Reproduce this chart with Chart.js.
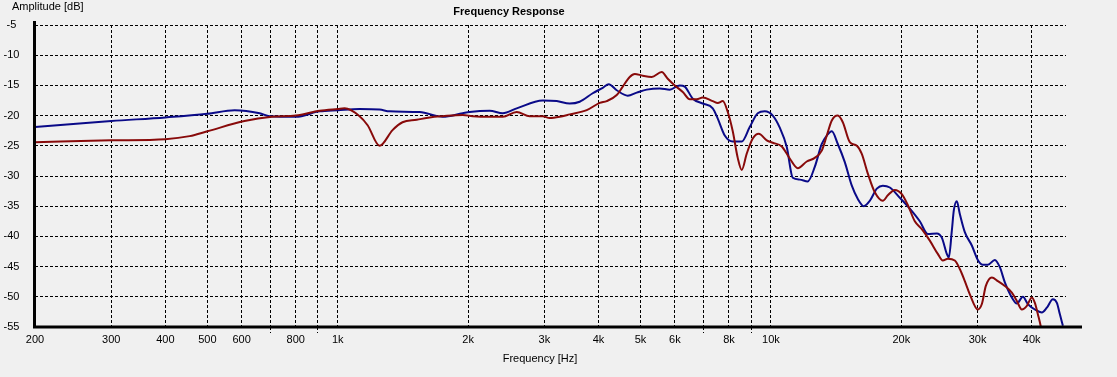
<!DOCTYPE html>
<html>
<head>
<meta charset="utf-8">
<script src="https://cdn.jsdelivr.net/npm/chart.js@4"></script>
<style>
  html, body { margin: 0; padding: 0; background: #f0f0f0; }
  canvas { display: block; }
</style>
</head>
<body>
<canvas id="fr" width="1117" height="377"></canvas>
<script>
// measured curves, frequency in Hz / amplitude in dB
const freqBlue = [200, 300, 400, 500, 578, 660, 696, 800, 908, 1000, 1123, 1249, 1318, 1546, 1747, 1943, 2016, 2242, 2403, 2589,
  2972, 3202, 3431, 3619, 3878, 4090, 4223, 4406, 4671, 4900, 5167, 5538, 5840, 6160, 6326, 6601, 6960, 7340, 7538, 7824,
  8164, 8563, 8935, 9325, 9678, 10099, 10482, 10879, 11231, 11657, 12164, 12625, 13104, 13459, 13822, 14270, 14811, 15373, 15872, 16387,
  16919, 17560, 18130, 18817, 19843, 20925, 22067, 23026, 24155, 24805, 25472, 25745, 26159, 26439, 26864, 27297, 28031, 29095, 30040, 30850,
  31681, 32883, 33768, 34678, 35994, 36966, 38165, 39192, 40679, 42221, 43360, 44766, 45729, 46465, 47212];
const dbBlue = [-21.9, -20.9, -20.3, -19.7, -19.1, -19.6, -20.1, -20.2, -19.3, -19.1, -18.9, -19.0, -19.3, -19.4, -20.2, -19.6, -19.4, -19.2, -19.6, -18.8,
  -17.5, -17.6, -18.0, -17.7, -16.3, -15.4, -14.8, -15.8, -16.7, -16.2, -15.7, -15.5, -15.7, -15.0, -15.2, -17.2, -18.0, -18.8, -20.5, -23.3,
  -24.3, -24.3, -21.9, -19.6, -19.3, -20.0, -22.0, -25.2, -30.3, -30.6, -30.9, -28.5, -24.7, -23.3, -22.6, -24.7, -27.7, -31.6, -33.8, -35.0,
  -34.1, -32.1, -31.6, -31.9, -33.6, -35.4, -37.5, -39.6, -39.5, -40.2, -42.9, -43.5, -39.1, -35.7, -34.2, -36.3, -39.3, -41.5, -43.9, -44.7,
  -44.7, -43.9, -45.1, -47.6, -50.1, -51.1, -50.0, -51.2, -52.1, -52.6, -51.8, -50.4, -51.0, -52.9, -54.8];

const freqRed = [200, 300, 400, 455, 500, 609, 704, 800, 908, 1000, 1037, 1123, 1172, 1249, 1338, 1411, 1521, 1630, 1747, 1943,
  2048, 2242, 2403, 2589, 2774, 2972, 3085, 3253, 3431, 3756, 4025, 4178, 4406, 4549, 4721, 4849, 5058, 5306, 5596, 5778,
  5998, 6259, 6496, 6743, 6960, 7340, 7538, 7741, 7950, 8164, 8383, 8563, 8794, 9079, 9375, 9782, 10099, 10594, 11054, 11534,
  12099, 12625, 13104, 13459, 13822, 14270, 14654, 15210, 15787, 16202, 16740, 17374, 18130, 18618, 19321, 20053, 20703, 21489, 22303, 23272,
  24284, 24937, 25608, 26580, 27297, 28031, 28792, 30040, 30687, 31346, 32363, 33410, 34678, 35994, 36966, 37962, 38984, 40036, 40679, 41335,
  42000, 42450];
const dbRed = [-24.4, -24.1, -23.9, -23.4, -22.6, -20.9, -20.2, -20.0, -19.2, -18.9, -18.8, -20.1, -21.6, -25.0, -22.4, -21.1, -20.7, -20.3, -20.1, -19.9,
  -20.1, -20.2, -20.2, -19.4, -20.1, -20.1, -20.4, -20.2, -19.8, -19.1, -17.9, -17.6, -16.6, -15.2, -13.6, -13.1, -13.4, -13.6, -12.8, -13.9,
  -15.0, -16.1, -17.3, -17.3, -17.0, -17.6, -17.9, -17.6, -19.4, -22.6, -27.0, -29.0, -26.3, -23.8, -23.0, -24.1, -24.5, -25.1, -27.1, -28.7,
  -27.6, -27.0, -25.8, -23.3, -20.8, -20.0, -21.1, -24.4, -25.0, -26.3, -29.6, -32.7, -34.1, -33.2, -32.3, -33.0, -34.8, -37.5, -38.8, -40.7,
  -42.9, -44.0, -43.7, -44.0, -45.4, -47.4, -49.6, -52.1, -51.2, -48.2, -46.8, -47.4, -48.2, -49.3, -50.7, -52.1, -51.5, -50.1, -51.0, -52.9,
  -55.0, -57.0];

// axis ticks
const gridFreqs = [200, 300, 400, 500, 600, 700, 800, 900, 1000, 2000, 3000, 4000, 5000, 6000, 7000, 8000, 9000,
  10000, 20000, 30000, 40000];
const labeledFreqs = [200, 300, 400, 500, 600, 800, 1000, 2000, 3000, 4000, 5000, 6000, 8000, 10000, 20000, 30000, 40000];
const dbTicks = [-5, -10, -15, -20, -25, -30, -35, -40, -45, -50, -55];

const FONT = '11px "Liberation Sans", Arial, sans-serif';

function freqLabel(f) {
  return f >= 1000 ? (f / 1000) + 'k' : String(f);
}

const textPlugin = {
  id: 'textPlugin',
  beforeDraw(chart) {
    const ctx = chart.ctx;
    ctx.save();
    ctx.fillStyle = '#f0f0f0';
    ctx.fillRect(0, 0, chart.width, chart.height);
    ctx.restore();
  },
  afterDraw(chart) {
    const ctx = chart.ctx;
    const xs = chart.scales.x, ys = chart.scales.y;
    const area = chart.chartArea;
    ctx.save();
    // axis lines
    ctx.strokeStyle = '#000';
    ctx.lineWidth = 3;
    ctx.beginPath();
    ctx.moveTo(34.5, 21);
    ctx.lineTo(34.5, area.bottom + 1.5);
    ctx.moveTo(33, area.bottom);
    ctx.lineTo(1082, area.bottom);
    ctx.stroke();

    ctx.fillStyle = '#000';
    ctx.font = FONT;
    ctx.textBaseline = 'middle';
    ctx.textAlign = 'center';
    dbTicks.forEach(v => {
      ctx.fillText(String(v), 11.5, ys.getPixelForValue(v));
    });
    labeledFreqs.forEach(f => {
      ctx.fillText(freqLabel(f), xs.getPixelForValue(f), 340);
    });
    ctx.fillText('Frequency [Hz]', 540, 359);
    ctx.textAlign = 'left';
    ctx.fillText('Amplitude [dB]', 12, 7);
    ctx.textAlign = 'center';
    ctx.font = 'bold 11px "Liberation Sans", Arial, sans-serif';
    ctx.fillText('Frequency Response', 509, 12);
    ctx.restore();
  }
};

new Chart(document.getElementById('fr'), {
  type: 'line',
  data: {
    datasets: [
      {
        label: 'red',
        data: freqRed.map((f, i) => ({ x: f, y: dbRed[i] })),
        borderColor: '#880a0a',
        borderWidth: 2,
        pointRadius: 0,
        cubicInterpolationMode: 'monotone',
        fill: false
      },
      {
        label: 'blue',
        data: freqBlue.map((f, i) => ({ x: f, y: dbBlue[i] })),
        borderColor: '#0a0a88',
        borderWidth: 2,
        pointRadius: 0,
        cubicInterpolationMode: 'monotone',
        fill: false
      }
    ]
  },
  options: {
    responsive: false,
    animation: false,
    devicePixelRatio: 1,
    layout: { padding: { top: 25, right: 51, left: 0, bottom: 0 } },
    plugins: { legend: { display: false }, tooltip: { enabled: false }, title: { display: false } },
    scales: {
      x: {
        type: 'logarithmic',
        min: 200,
        max: 48000,
        afterFit: s => { s.height = 50; },
        afterBuildTicks: s => { s.ticks = gridFreqs.map(v => ({ value: v })); },
        ticks: { display: false },
        border: { display: false, dash: [3, 2] },
        grid: {
          color: '#000',
          lineWidth: 1,
          drawTicks: true,
          tickLength: 6,
          tickColor: c => labeledFreqs.includes(c.tick && c.tick.value) ? 'rgba(0,0,0,0)' : '#000',
          tickBorderDash: [3, 2]
        }
      },
      y: {
        min: -55,
        max: -5,
        afterFit: s => { s.width = 35; },
        afterBuildTicks: s => { s.ticks = dbTicks.map(v => ({ value: v })); },
        ticks: { display: false },
        border: { display: false, dash: [3, 2] },
        grid: { color: '#000', lineWidth: 1, drawTicks: false }
      }
    }
  },
  plugins: [textPlugin]
});
</script>
</body>
</html>
